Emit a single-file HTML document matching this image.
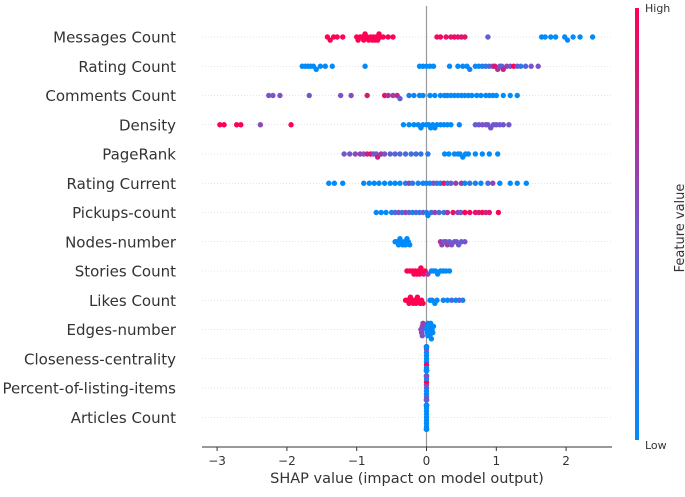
<!DOCTYPE html>
<html><head><meta charset="utf-8"><style>
body{margin:0;background:#fff;font-family:"DejaVu Sans",sans-serif}
svg text{font-family:"DejaVu Sans","Liberation Sans",sans-serif}
</style></head><body>
<svg id="chart" width="685" height="493" xmlns="http://www.w3.org/2000/svg">
<defs><linearGradient id="cb" x1="0" y1="1" x2="0" y2="0">
<stop offset="0" stop-color="#008bfb"/><stop offset="0.5" stop-color="#7b53c9"/><stop offset="1" stop-color="#ff0052"/></linearGradient></defs>
<g id="grid"></g><g id="labels"></g><g id="pts"></g><g id="axis"></g>
<rect x="635" y="8" width="4" height="432" fill="url(#cb)"/>
<text x="645" y="12" font-size="11" fill="#333">High</text>
<text x="645" y="449" font-size="11" fill="#333">Low</text>
<text transform="translate(684,228) rotate(-90)" text-anchor="middle" font-size="13" fill="#333">Feature value</text>
<text x="407" y="483" text-anchor="middle" font-size="14.5" fill="#333">SHAP value (impact on model output)</text>
</svg>
<script>
const features=["Messages Count","Rating Count","Comments Count","Density","PageRank","Rating Current","Pickups-count","Nodes-number","Stories Count","Likes Count","Edges-number","Closeness-centrality","Percent-of-listing-items","Articles Count"];
const xTicks=[-3,-2,-1,0,1,2];
const shapMessages=[-1.42,-1.38,-1.33,-1.28,-1.2,-1.0,-0.98,-0.95,-0.92,-0.9,-0.88,-0.85,-0.83,-0.8,-0.78,-0.76,-0.74,-0.72,-0.7,-0.68,-0.66,-0.62,-0.55,-0.48,0.15,0.2,0.28,0.35,0.4,0.45,0.5,0.55,0.88,1.65,1.7,1.78,1.85,1.98,2.02,2.1,2.2,2.38];
const fvMessages=[1,1,1,1,1,1,1,1,1,1,1,1,1,1,1,1,1,1,1,1,1,1,1,1,0.95,0.95,0.9,0.9,0.95,0.9,0.85,0.9,0.4,0,0,0,0,0,0.05,0,0,0];
const shapRating=[-1.78,-1.74,-1.7,-1.66,-1.62,-1.58,-1.52,-1.45,-1.35,-0.88,-0.1,-0.05,0,0.05,0.1,0.33,0.45,0.52,0.58,0.62,0.7,0.75,0.8,0.85,0.9,0.95,0.98,1.02,1.05,1.08,1.1,1.15,1.2,1.25,1.3,1.35,1.42,1.5,1.6];
const fvRating=[0,0,0,0,0,0,0,0,0,0,0,0,0,0,0,0.05,0,0,0,0.1,0.05,0,0.1,0.2,0.3,0.6,0.9,0.7,0.5,0.3,0.8,0.6,0.5,1,0.4,0.2,0.3,0.5,0.5];
const shapComments=[-2.26,-2.2,-2.1,-1.68,-1.23,-1.08,-0.85,-0.6,-0.55,-0.48,-0.42,-0.38,-0.25,-0.18,-0.1,-0.05,0.05,0.12,0.2,0.26,0.3,0.35,0.4,0.45,0.5,0.55,0.6,0.65,0.72,0.78,0.85,0.9,0.95,1.0,1.1,1.2,1.3];
const fvComments=[0.5,0.5,0.5,0.5,0.5,0.55,0.85,0.9,0.7,0.6,0.8,0.4,0.1,0.05,0.05,0,0,0,0,0.05,0,0,0,0,0.05,0,0,0,0,0,0,0,0,0,0,0,0];
const shapDensity=[-2.96,-2.9,-2.72,-2.66,-2.38,-1.94,-0.33,-0.25,-0.18,-0.12,-0.08,-0.05,0,0.03,0.06,0.09,0.12,0.15,0.2,0.25,0.3,0.35,0.47,0.7,0.75,0.8,0.85,0.88,0.92,0.96,1.0,1.05,1.1,1.18];
const fvDensity=[1,1,1,1,0.55,1,0,0,0,0,0,0.05,0,0,0,0,0,0,0,0,0,0,0.05,0.4,0.45,0.5,0.5,0.45,0.5,0.45,0.5,0.4,0.5,0.45];
const shapPageRank=[-1.18,-1.1,-1.02,-0.95,-0.9,-0.85,-0.8,-0.76,-0.72,-0.7,-0.65,-0.6,-0.52,-0.45,-0.38,-0.3,-0.22,-0.15,-0.08,0.02,0.26,0.32,0.4,0.45,0.48,0.52,0.56,0.6,0.7,0.8,0.9,1.02];
const fvPageRank=[0.45,0.5,0.55,0.6,0.5,0.8,0.9,0.5,0.45,0.8,0.7,0.5,0.35,0.4,0.3,0.3,0.25,0.25,0.2,0.15,0,0,0.05,0,0,0,0.05,0,0,0,0,0];
const shapRatingCur=[-1.4,-1.32,-1.2,-0.9,-0.82,-0.75,-0.68,-0.6,-0.52,-0.45,-0.38,-0.3,-0.25,-0.2,-0.12,-0.05,0,0.05,0.1,0.15,0.2,0.25,0.3,0.35,0.42,0.5,0.55,0.62,0.7,0.78,0.88,0.95,1.05,1.2,1.3,1.43];
const fvRatingCur=[0,0,0,0,0,0,0,0,0,0,0,0.1,0.6,0.2,0.1,0,0.1,0,0.5,0.3,0,0.9,0.2,0.4,0.6,0.7,0,0.2,0.1,0,0.3,0.6,0,0,0,0];
const shapPickups=[-0.72,-0.65,-0.58,-0.5,-0.45,-0.4,-0.35,-0.3,-0.25,-0.2,-0.15,-0.1,-0.05,0,0.02,0.07,0.12,0.18,0.25,0.3,0.38,0.45,0.49,0.55,0.62,0.7,0.75,0.8,0.85,0.9,1.03];
const fvPickups=[0,0,0,0.1,0.3,0.5,0.2,0.6,0.4,0.1,0.3,0.2,0.5,0.1,0,0.2,0.6,0.3,0.2,0.7,0.9,0.6,0.4,1,0.95,0.9,0.85,1,0.8,0.9,1];
const shapNodes=[-0.45,-0.42,-0.4,-0.38,-0.36,-0.34,-0.32,-0.3,-0.28,-0.26,-0.24,0.2,0.22,0.25,0.28,0.3,0.33,0.36,0.4,0.43,0.46,0.5,0.55];
const fvNodes=[0,0,0,0,0,0,0,0,0,0,0,0.7,0.6,0.45,0.5,0.6,0.45,0.5,0.4,0.5,0.45,0.4,0.5];
const shapStories=[-0.28,-0.24,-0.2,-0.18,-0.16,-0.14,-0.12,-0.1,-0.08,-0.06,-0.04,-0.02,0.02,0.07,0.1,0.13,0.16,0.2,0.24,0.28,0.33];
const fvStories=[1,1,1,1,1,1,1,1,1,1,0.9,1,0.6,0,0,0,0,0,0,0,0];
const shapLikes=[-0.3,-0.27,-0.25,-0.23,-0.21,-0.19,-0.17,-0.15,-0.13,-0.11,-0.09,-0.07,-0.05,0.05,0.08,0.12,0.15,0.24,0.3,0.36,0.42,0.47,0.52];
const fvLikes=[1,1,1,1,1,1,1,1,1,1,1,1,1,0,0,0,0,0.1,0,0.3,0,0.4,0.1];
const shapEdges=[-0.08,-0.07,-0.06,-0.05,-0.06,-0.07,0.0,0.01,0.02,0.03,0.04,0.05,0.06,0.07,0.08,0.09,0.1,0.02,0.03,0.01];
const fvEdges=[0.6,0.5,0.55,0.6,0.5,0.55,0,0,0,0,0,0,0,0,0,0,0,0,0,0];
const shapCloseness=[0,0,0,0,0,0,0,0,0,0,0,0,0,0,0,0,0,0];
const fvCloseness=[0,0,0,1,0,0,0.5,0,0,0,1,0,0,0,0,0,0,0];
const shapPercent=[0,0,0,0,0,0,0,0,0,0,0,0,0,0,0,0,0,0];
const fvPercent=[0.3,0,0.5,0,1,0.4,0,0.6,0,0.5,1,0,0.4,0.5,0,0.6,0.5,0.4];
const shapArticles=[0,0,0,0,0,0,0,0,0,0,0,0,0,0,0,0,0,0];
const fvArticles=[0,0,0,0,0,0,0,0,0,0,0,0,0,0,0,0,0,0];
const shapAll=[shapMessages,shapRating,shapComments,shapDensity,shapPageRank,shapRatingCur,shapPickups,shapNodes,shapStories,shapLikes,shapEdges,shapCloseness,shapPercent,shapArticles];
const fvAll=[fvMessages,fvRating,fvComments,fvDensity,fvPageRank,fvRatingCur,fvPickups,fvNodes,fvStories,fvLikes,fvEdges,fvCloseness,fvPercent,fvArticles];

const NS="http://www.w3.org/2000/svg";
const x0=426.5, ppu=69.8, rowTop=37, rowH=29.25, axisY=447;
const xs=v=>x0+v*ppu, ys=i=>rowTop+i*rowH;
function mk(t,a,p){const e=document.createElementNS(NS,t);for(const k in a)e.setAttribute(k,a[k]);p.appendChild(e);return e;}
function col(f){const s=[[0,139,251],[123,83,201],[255,0,82]];let a,b,t;if(f<0.5){a=s[0];b=s[1];t=f/0.5}else{a=s[1];b=s[2];t=(f-0.5)/0.5}
return `rgb(${a.map((c,i)=>Math.round(c+(b[i]-c)*t)).join(',')})`;}
const grid=document.getElementById('grid'),labels=document.getElementById('labels'),pts=document.getElementById('pts'),axis=document.getElementById('axis');
features.forEach((f,i)=>{
 const g=mk('line',{x1:202,x2:612,y1:ys(i),y2:ys(i),stroke:'#ccc','stroke-width':0.5,'stroke-dasharray':'1,2'},grid);
 
 
 const t=mk('text',{x:176,y:ys(i)+5.5,'text-anchor':'end','font-size':15,fill:'#333'},labels);t.textContent=f;
 
 
});
const zl=mk('line',{x1:xs(0),x2:xs(0),y1:6,y2:axisY,stroke:'#999','stroke-width':1.2},grid);


shapAll.forEach((arr,i)=>{
 const bins={};
 const idx=arr.map((v,k)=>k).sort((a,b)=>arr[a]-arr[b]);
 idx.forEach(k=>{
  const v=arr[k];const b=Math.round(v/0.05);bins[b]=(bins[b]||0)+1;const n=bins[b]-1;
  let off=Math.ceil(n/2)*(n%2?1:-1)*3.1;off=Math.max(-12,Math.min(12,off));
  const c=mk('circle',{cx:xs(v),cy:ys(i)+off,r:2.7,fill:col(fvAll[i][k])},pts);
  
  
 });
});
const al=mk('line',{x1:202,x2:612,y1:axisY,y2:axisY,stroke:'#333','stroke-width':1},axis);


xTicks.forEach(v=>{
 mk('line',{x1:xs(v),x2:xs(v),y1:axisY,y2:axisY+4,stroke:'#333'},axis);
 const t=mk('text',{x:xs(v),y:axisY+18,'text-anchor':'middle','font-size':12,fill:'#333'},axis);
 t.textContent=(v<0?'\u2212':'')+Math.abs(v);
 
 
});
</script>
</body></html>
